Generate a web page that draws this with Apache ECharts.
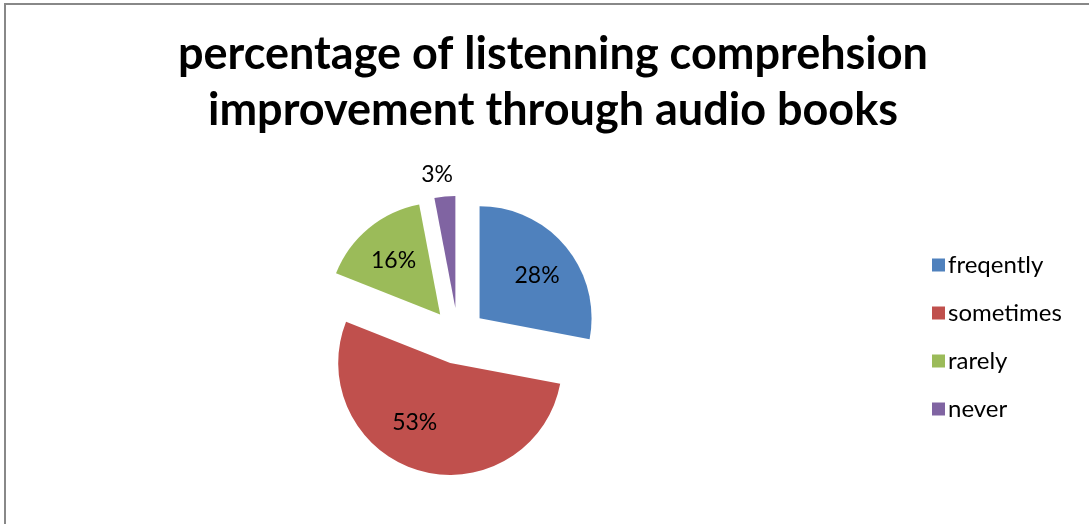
<!DOCTYPE html>
<html><head><meta charset="utf-8">
<script src="https://cdn.jsdelivr.net/npm/echarts@6/dist/echarts.min.js"></script>
<style>html,body{margin:0;padding:0;background:#fff}#c{width:1089px;height:524px}</style>
</head><body><div id="c"></div>
<script>
const titleText = 'percentage of listenning comprehsion\nimprovement through audio books';
const categories = ['freqently', 'sometimes', 'rarely', 'never'];
const values = [28, 53, 16, 3];
const colors = ['#4F81BD', '#C0504D', '#9BBB59', '#8064A2'];
// label nudges (dx, dy) relative to ECharts' default label anchor
const labelNudges = [[12, -5], [-19, 3], [-9, -8], [10, -2]];

const chart = echarts.init(document.getElementById('c'));
const FONT = 'Lato';
const data = categories.map((name, i) => {
  const [dx, dy] = labelNudges[i];
  const spacer = '{s|}';
  const fmt = dy < 0 ? '{t|{d}%}\n' + spacer : (dy > 0 ? spacer + '\n{t|{d}%}' : '{t|{d}%}');
  const label = {
    formatter: fmt,
    rich: { t: { fontFamily: FONT, fontSize: 23, color: '#000' }, s: { height: 2 * Math.abs(dy), fontSize: 1 } },
    padding: [0, dx < 0 ? -2 * dx : 0, 0, dx > 0 ? 2 * dx : 0]
  };
  if (i === 3) {
    label.position = 'outside';
    label.padding = 0;
    label.distanceToLabelLine = -dx;
  }
  return {
    name, value: values[i], selected: true,
    itemStyle: { color: colors[i] },
    select: { itemStyle: { color: colors[i] } },
    label
  };
});
chart.setOption({
  animation: false,
  title: {
    text: titleText, left: 548, textAlign: 'center', top: 21,
    textStyle: { fontFamily: FONT, fontWeight: 'bold', fontSize: 45, lineHeight: 56, color: '#000' }
  },
  legend: {
    orient: 'vertical', left: 927, top: 248,
    icon: 'rect', itemWidth: 13, itemHeight: 13, itemGap: 24,
    selectedMode: false,
    textStyle: { fontFamily: FONT, fontSize: 24, color: '#000', padding: [0, 0, 0, -2] },
    data: categories
  },
  graphic: [{
    type: 'rect', shape: { x: 5, y: 4, width: 1200, height: 1000 },
    style: { fill: 'none', stroke: '#888', lineWidth: 2 }, silent: true
  }],
  series: [{
    type: 'pie', center: [458, 336], radius: 112,
    startAngle: 90, clockwise: true,
    selectedMode: 'multiple', selectedOffset: 28,
    avoidLabelOverlap: false,
    label: {
      position: 'inner',
      fontFamily: FONT, fontSize: 23, color: '#000'
    },
    labelLine: { show: false, length: 20, length2: 0 },
    emphasis: { disabled: true },
    data
  }]
});
</script></body></html>
